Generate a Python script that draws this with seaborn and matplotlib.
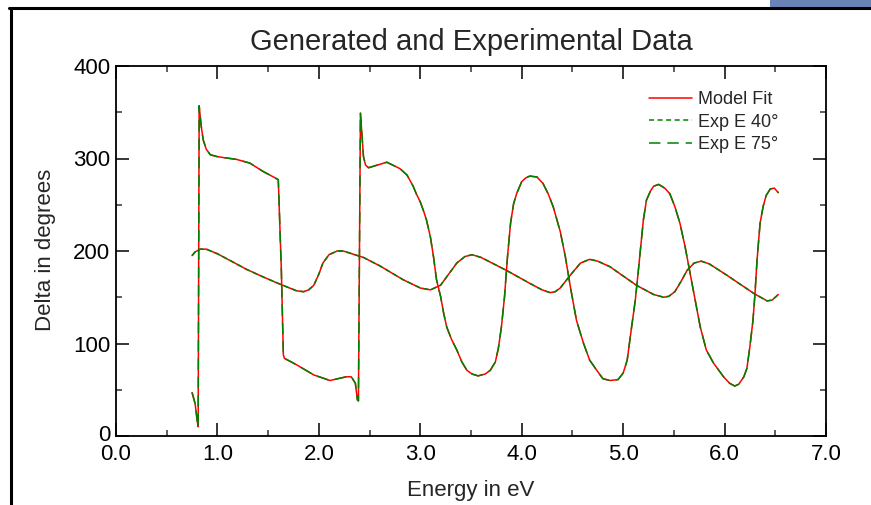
import matplotlib
matplotlib.use("Agg")
import matplotlib.pyplot as plt
from matplotlib.lines import Line2D
from matplotlib.patches import Rectangle
from matplotlib.ticker import FixedLocator, MultipleLocator
from matplotlib.transforms import ScaledTranslation
import seaborn as sns
import pandas as pd

# ---------------- data ----------------
energy_75 = [0.75, 0.78, 0.80, 0.81, 0.82, 0.84, 0.86, 0.89, 0.93, 1.00, 1.06, 1.19, 1.32,
             1.45, 1.57, 1.60, 1.63, 1.65, 1.66, 1.78, 1.95, 2.11, 2.27, 2.32, 2.36, 2.38,
             2.39, 2.41, 2.44, 2.46, 2.49, 2.58, 2.67, 2.80, 2.87, 2.93, 2.96, 3.00, 3.03,
             3.06, 3.10, 3.13, 3.16, 3.20, 3.23, 3.26, 3.31, 3.36, 3.41, 3.46, 3.51, 3.57,
             3.64, 3.69, 3.74, 3.77, 3.80, 3.83, 3.86, 3.89, 3.92, 3.95, 4.00, 4.04, 4.08,
             4.15, 4.21, 4.26, 4.31, 4.38, 4.43, 4.48, 4.54, 4.61, 4.67, 4.74, 4.80, 4.87,
             4.95, 5.00, 5.04, 5.08, 5.12, 5.15, 5.17, 5.20, 5.23, 5.27, 5.30, 5.35, 5.41,
             5.46, 5.51, 5.56, 5.61, 5.66, 5.71, 5.76, 5.82, 5.89, 5.99, 6.05, 6.10, 6.14,
             6.19, 6.22, 6.25, 6.28, 6.30, 6.32, 6.35, 6.38, 6.41, 6.45, 6.49, 6.53]
delta_75 = [47, 35, 17, 10, 357, 335, 320, 310, 304, 302, 301, 299, 295,
            286, 279, 277, 180, 88, 84, 77, 66, 60, 64, 64, 57, 39,
            38, 349, 302, 293, 290, 293, 296, 289, 282, 270, 262, 253, 244,
            234, 215, 194, 169, 151, 133, 118, 104, 93, 80, 71, 67, 65,
            67, 71, 80, 95, 118, 150, 194, 230, 251, 262, 275, 279, 281,
            280, 273, 262, 248, 221, 194, 161, 125, 100, 82, 71, 62, 60,
            61, 68, 82, 115, 147, 179, 201, 234, 255, 265, 270, 272, 268,
            262, 248, 230, 205, 176, 147, 118, 93, 79, 64, 57, 54, 56,
            64, 73, 97, 125, 154, 190, 230, 248, 260, 267, 268, 263]

energy_40 = [0.75, 0.78, 0.83, 0.89, 1.00, 1.12, 1.29, 1.45, 1.62, 1.78, 1.85, 1.90, 1.95,
             2.00, 2.04, 2.10, 2.18, 2.24, 2.44, 2.60, 2.83, 3.00, 3.10, 3.20, 3.28, 3.36,
             3.44, 3.51, 3.60, 3.85, 4.08, 4.20, 4.28, 4.33, 4.38, 4.48, 4.58, 4.67, 4.75,
             4.87, 5.13, 5.30, 5.40, 5.45, 5.51, 5.57, 5.63, 5.70, 5.77, 5.85, 6.02, 6.29,
             6.42, 6.47, 6.53]
delta_40 = [195, 199, 202, 202, 197, 190, 180, 172, 164, 157, 156, 158, 163,
            175, 187, 196, 200, 200, 193, 184, 169, 160, 158, 163, 175, 187,
            194, 196, 193, 179, 165, 158, 155, 156, 160, 174, 187, 191, 189,
            183, 163, 153, 150, 151, 156, 167, 179, 187, 189, 186, 174, 154,
            146, 147, 153]

x_ticks = [0, 1, 2, 3, 4, 5, 6, 7]
x_tick_labels = ["0.0", "1.0", "2.0", "3.0", "4.0", "5.0", "6.0", "7.0"]
y_ticks = [0, 100, 200, 300, 400]
y_tick_labels = ["0", "100", "200", "300", "400"]

title = "Generated and Experimental Data"
x_label = "Energy in eV"
y_label = "Delta in degrees"
legend_labels = ["Model Fit", "Exp E 40°", "Exp E 75°"]

# ---------------- style ----------------
sns.set_style("ticks")
plt.rcParams['font.family'] = ['Liberation Sans', 'DejaVu Sans']

W, H = 871, 505
fig = plt.figure(figsize=(W / 100, H / 100), dpi=100)
ax = fig.add_axes([116 / W, 1 - 436 / H, 710 / W, 370 / H])

RED = "#ff0000"
GREEN = "#008000"
LW = 1.1

df75 = pd.DataFrame({"Energy": energy_75, "Delta": delta_75})
df40 = pd.DataFrame({"Energy": energy_40, "Delta": delta_40})

# model fits (red, solid)
sns.lineplot(data=df40, x="Energy", y="Delta", ax=ax, color=RED, lw=LW, sort=False,
             estimator=None, zorder=2)
sns.lineplot(data=df75, x="Energy", y="Delta", ax=ax, color=RED, lw=LW, sort=False,
             estimator=None, zorder=2)
# experimental (green, dashed)
sns.lineplot(data=df40, x="Energy", y="Delta", ax=ax, color=GREEN, lw=LW, sort=False,
             estimator=None, linestyle=(0, (3.3, 2.3)), zorder=3)
sns.lineplot(data=df75, x="Energy", y="Delta", ax=ax, color=GREEN, lw=LW, sort=False,
             estimator=None, linestyle=(0, (7.5, 4.5)), zorder=3)

ax.set_xlim(0, 7)
ax.set_ylim(0, 400)
ax.xaxis.set_major_locator(FixedLocator(x_ticks))
ax.set_xticklabels(x_tick_labels)
ax.yaxis.set_major_locator(FixedLocator(y_ticks))
ax.set_yticklabels(y_tick_labels)
ax.xaxis.set_minor_locator(MultipleLocator(0.5))
ax.yaxis.set_minor_locator(MultipleLocator(50))
ax.set_xlabel("")
ax.set_ylabel("")

for s in ax.spines.values():
    s.set_visible(True)
    s.set_linewidth(1.3)
    s.set_color("black")

ax.tick_params(which="both", direction="in", top=True, right=True, color="#333333")
ax.tick_params(which="major", length=9.5, width=1.1, labelsize=16, colors="black")
ax.tick_params(axis="x", which="major", pad=6)
ax.tick_params(axis="y", which="major", pad=4)
ax.tick_params(which="minor", length=4.5, width=1.1)

# nudge the "0" y tick label up slightly, as in the reference
zero_lbl = ax.get_yticklabels()[0]
zero_lbl.set_transform(zero_lbl.get_transform() + ScaledTranslation(0, 3 / 100, fig.dpi_scale_trans))

# title and axis labels
fig.text(471 / W, 1 - 50 / H, title, ha="center", va="baseline", fontsize=21)
fig.text(471 / W, 1 - 496 / H, x_label, ha="center", va="baseline", fontsize=16)
fig.text(45 / W, 1 - 250 / H, y_label, ha="center", va="center", rotation=90, fontsize=16)

# legend
handles = [
    Line2D([], [], color=RED, lw=LW),
    Line2D([], [], color=GREEN, lw=LW, linestyle=(0, (3.3, 2.3))),
    Line2D([], [], color=GREEN, lw=LW, linestyle=(0, (7.5, 4.5))),
]
leg = ax.legend(handles, legend_labels, loc="upper left",
                bbox_to_anchor=(649 / W, 1 - 91 / H), bbox_transform=fig.transFigure,
                frameon=False, fontsize=13, handlelength=2.4, handletextpad=0.3,
                labelspacing=0.31, borderaxespad=0, borderpad=0)

# window frame decoration
fig.add_artist(Line2D([9 / W, 1], [1 - 7.5 / H, 1 - 7.5 / H], color="black", lw=2.2,
                      transform=fig.transFigure))
fig.add_artist(Line2D([10.5 / W, 10.5 / W], [0, 1 - 7.5 / H], color="black", lw=2.2,
                      transform=fig.transFigure))
fig.add_artist(Rectangle((770 / W, 1 - 6.5 / H), 101 / W, 6.5 / H, color="#6a83b5",
                         transform=fig.transFigure, lw=0))

fig.savefig("out.png", dpi=100)
